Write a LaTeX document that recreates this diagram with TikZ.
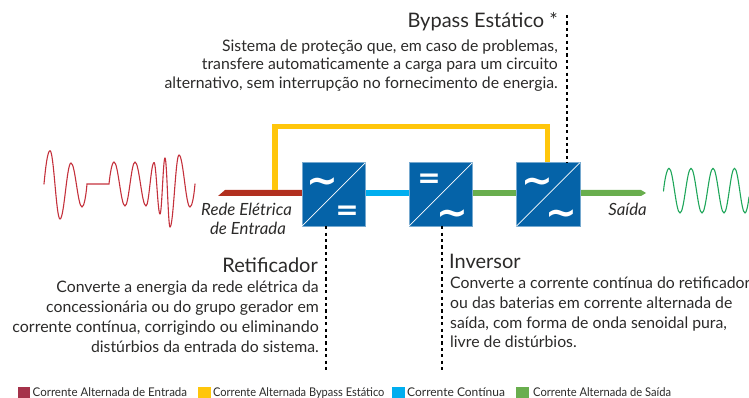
\documentclass[tikz,border=0pt]{standalone}
\usepackage{fontspec}
\setmainfont{Lato}
\newfontfamily\symfont{DejaVu Sans}
\definecolor{boxblue}{HTML}{0563A8}
\definecolor{wirered}{HTML}{B2301F}
\definecolor{legred}{HTML}{A5324A}
\definecolor{wavered}{HTML}{C4313C}
\definecolor{amber}{HTML}{FFC60B}
\definecolor{dcblue}{HTML}{00AEEF}
\definecolor{outgreen}{HTML}{69AE4E}
\definecolor{wavegreen}{HTML}{1FA65A}
\definecolor{inktext}{HTML}{2B2A29}
\newcommand{\halfwave}[2]{%
 \foreach \xa/\ya/\xb/\yb in {#2}{%
  \draw[#1] (\xa,\ya) .. controls ({\xa+0.38*(\xb-\xa)},\ya) and ({\xb-0.38*(\xb-\xa)},\yb) .. (\xb,\yb);}}
\tikzset{
 conv/.style={fill=boxblue,draw=boxblue!55!white,line width=0.5pt,minimum width=63.5pt,minimum height=63.5pt,inner sep=0pt,outer sep=0pt},
 tilde/.style={text=white,font=\symfont\fontsize{38}{38}\selectfont\bfseries,inner sep=0pt},
 equal/.style={text=white,font=\symfont\fontsize{28}{28}\selectfont\bfseries,inner sep=0pt},
 bar/.style={line width=5.5pt},
 guide/.style={line width=1.6pt,black,dash pattern=on 3.2pt off 3.2pt},
 body/.style={anchor=base east,inner sep=0pt,text=inktext,font=\fontsize{15.8}{18}\selectfont},
 bodyl/.style={anchor=base west,inner sep=0pt,text=inktext,font=\fontsize{15.8}{18}\selectfont},
 head/.style={inner sep=0pt,text=inktext,font=\fontsize{20}{22}\selectfont},
 wlabel/.style={inner sep=0pt,text=inktext,font=\fontsize{16.8}{18}\selectfont\itshape},
 leg/.style={anchor=base west,inner sep=0pt,text=inktext,font=\fontsize{12}{14}\selectfont},
 swatch/.style={minimum width=12.5pt,minimum height=11.5pt,inner sep=0pt,anchor=north west},
 wred/.style={line width=1.1pt,wavered,line cap=round},
 wgreen/.style={line width=1.1pt,wavegreen,line cap=round},
}
\begin{document}
\begin{tikzpicture}[x=1pt,y=-1pt]
\useasboundingbox (0,0) rectangle (749,398);
% converters
\node[conv] (rect) at (333.7,194.5) {};
\node[conv] (inv) at (440.7,194.5) {};
\node[conv] (byp) at (548,194.5) {};
\coordinate (redstart) at (218,196);
\coordinate (redtop) at (225,190);
\coordinate (tipend) at (646,193);
\coordinate (bend1) at (275,126.7);
\coordinate (bend2) at (547.7,126.7);
\coordinate (yst) at (275,193);
% wires
\draw[bar,dcblue] (rect.east |- 0,193) -- (inv.west |- 0,193);
\draw[bar,outgreen] (inv.east |- 0,193) -- (byp.west |- 0,193);
\fill[wirered] (redstart) -- (redtop) -- (rect.west |- redtop) -- (rect.west |- redstart) -- cycle;
\draw[bar,amber,line join=miter] (yst |- 0,190) -- (bend1) -- (bend2) -- (byp.north -| bend2);
\fill[outgreen] (byp.east |- 0,190) -- (641,190) -- (tipend) -- (641,196) -- (byp.east |- 0,196) -- cycle;
\node[conv] at (rect) {};
\node[conv] at (inv) {};
\node[conv] at (byp) {};
% diagonals
\foreach \b in {rect,inv,byp}{\draw[white,line width=0.7pt] (\b.south west) -- (\b.north east);}
% symbols
\node[tilde] (r1) at (322.7,186) {\char"223C};
\node[equal] (r2) at (347,213) {=};
\node[equal] (i1) at (429,181) {=};
\node[tilde] (i2) at (452,218) {\char"223C};
\node[tilde] (b1) at (537,186) {\char"223C};
\node[tilde] (b2) at (561,218) {\char"223C};
% guides
\coordinate (gtop) at (566.7,15);
\coordinate (g1) at (326,372);
\coordinate (g2) at (442,372);
\draw[guide] (gtop) -- (gtop |- byp.north);
\draw[guide] (g1 |- rect.south) -- (g1);
\draw[guide] (g2 |- inv.south) -- (g2);
% waves
\draw[wred] (44,184) .. controls (45.5,168) and (47.5,150.7) .. (50,150.7);
\halfwave{wred}{50/150.7/60/219,60/219/71/163,71/163/82/207}
\draw[wred] (82,207) .. controls (84,207) and (86,196) .. (87,184) -- (109,184) .. controls (110,174) and (112,162) .. (114,162);
\halfwave{wred}{114/162/125/206,125/206/135/162,135/162/146/206,146/206/154/162.5,154/162.5/160/214,160/214/165/158,165/158/170/227,170/227/179/155,179/155/190/207}
\draw[wred] (190,207) .. controls (192,207) and (194,196) .. (195,184);
\draw[wgreen] (663.5,191) .. controls (664.5,180) and (667,168.3) .. (669,168.3);
\halfwave{wgreen}{669/168.3/680/213,680/213/691/168.3,691/168.3/702/213,702/213/713/168.3,713/168.3/724/213,724/213/734.5/168.3,734.5/168.3/745/213}
\draw[wgreen] (745,213) .. controls (746.5,213) and (748,205) .. (749,197);
% labels
\node[wlabel,anchor=base east] (lb1) at (292,215) {Rede Elétrica};
\node[wlabel,anchor=base east] (lb2) at (286,234) {de Entrada};
\node[wlabel,anchor=base east] (lb3) at (647,215) {Saída};
\node[head,anchor=base east] (h1) at (558,28) {Bypass Estático *};
\node[body] (t1) at (558,52) {Sistema de proteção que, em caso de problemas,};
\node[body] (t2) at (558,70) {transfere automaticamente a carga para um circuito};
\node[body] (t3) at (558,89) {alternativo, sem interrupção no fornecimento de energia.};
\node[head,anchor=base east] (h2) at (318,272) {Retificador};
\node[body] (t4) at (319,292) {Converte a energia da rede elétrica da};
\node[body] (t5) at (319,312) {concessionária ou do grupo gerador em};
\node[body,font=\fontsize{16}{18}\selectfont] (t6) at (319,332) {corrente contínua, corrigindo ou eliminando};
\node[body] (t7) at (319,352) {distúrbios da entrada do sistema.};
\node[head,anchor=base west] (h3) at (449,268) {Inversor};
\node[bodyl,font=\fontsize{15.8}{18}\selectfont] (t8) at (450,288) {Converte a corrente contínua do retificador};
\node[bodyl] (t9) at (450,308) {ou das baterias em corrente alternada de};
\node[bodyl] (t10) at (450,328) {saída, com forma de onda senoidal pura,};
\node[bodyl] (t11) at (450,347) {livre de distúrbios.};
% legend
\node[swatch,fill=legred] (s1) at (17.5,387) {};
\node[leg,xscale=0.96] at (32.5,396) {Corrente Alternada de Entrada};
\node[swatch,fill=amber] (s2) at (198,387) {};
\node[leg,xscale=0.92] at (213,396) {Corrente Alternada Bypass Estático};
\node[swatch,fill=dcblue] (s3) at (392,387) {};
\node[leg] at (407,396) {Corrente Contínua};
\node[swatch,fill=outgreen] (s4) at (516,387) {};
\node[leg,xscale=0.93] at (533,396) {Corrente Alternada de Saída};
\end{tikzpicture}
\end{document}
